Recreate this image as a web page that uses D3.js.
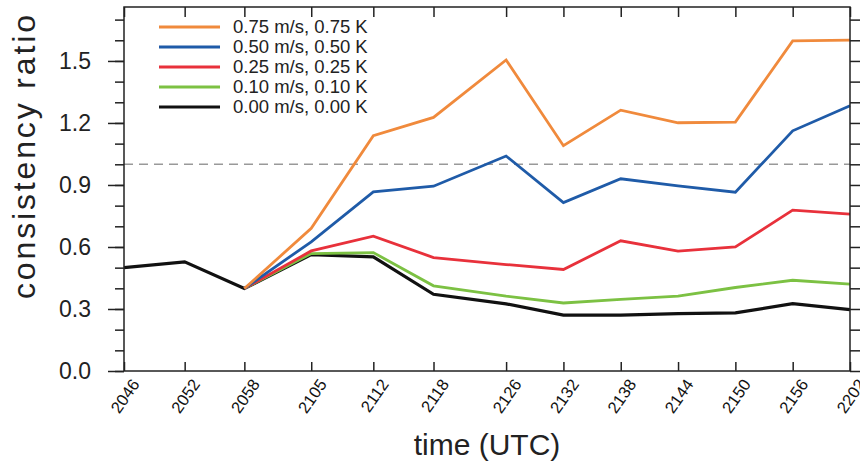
<!DOCTYPE html>
<html>
<head>
<meta charset="utf-8">
<script src="https://cdn.jsdelivr.net/npm/d3@7"></script>
<style>
  body { margin: 0; background: #fff; }
  svg { display: block; font-family: "Liberation Sans", Arial, sans-serif; }
</style>
</head>
<body>
<div id="parentDiv"></div>
<script>
// data
const timeLabels = ["2046", "2052", "2058", "2105", "2112", "2118", "2126", "2132", "2138", "2144", "2150", "2156", "2202"];
// minutes after 20:46 (the early runs are not on whole minutes)
const timeMinutes = [0, 6.35, 12.6, 19.6, 26.1, 32.4, 40, 46, 52, 58, 64, 70, 76];

// perturbed runs branch off at 2058
const ratio075 = [null, null, 0.399, 0.69, 1.138, 1.227, 1.505, 1.09, 1.262, 1.201, 1.204, 1.597, 1.601];
const ratio050 = [null, null, 0.399, 0.625, 0.867, 0.894, 1.04, 0.815, 0.93, 0.896, 0.865, 1.162, 1.283];
const ratio025 = [null, null, 0.399, 0.581, 0.652, 0.549, 0.515, 0.491, 0.63, 0.58, 0.60, 0.778, 0.759];
const ratio010 = [null, null, 0.399, 0.568, 0.573, 0.412, 0.362, 0.329, 0.347, 0.362, 0.404, 0.439, 0.42];
const ratio000 = [0.50, 0.528, 0.399, 0.563, 0.552, 0.371, 0.325, 0.27, 0.27, 0.278, 0.281, 0.326, 0.297];

const seriesNames = ["0.75 m/s, 0.75 K", "0.50 m/s, 0.50 K", "0.25 m/s, 0.25 K", "0.10 m/s, 0.10 K", "0.00 m/s, 0.00 K"];
const seriesValues = [ratio075, ratio050, ratio025, ratio010, ratio000];
const seriesColors = ["#f08a3c", "#1f5ba8", "#e8313b", "#7cc143", "#111111"];

const majorTicks = [0, 0.3, 0.6, 0.9, 1.2, 1.5];
const minorTicks = d3.range(0, 18).map(i => i / 10);

const width = 860;
const height = 463;
const margin = {left: 124, right: 10, top: 7, bottom: 92};

const svg = d3.select('#parentDiv').append('svg')
  .attr('width', width)
  .attr('height', height);

const x = d3.scaleLinear()
  .domain([0, 76])
  .range([margin.left, width - margin.right]);

const y = d3.scaleLinear()
  .domain([0, 1.761])
  .range([height - margin.bottom, margin.top]);

const frameColor = "#222";

// reference line at 1.0
svg.append('line')
  .attr('x1', x(0))
  .attr('x2', x(76))
  .attr('y1', y(1))
  .attr('y2', y(1))
  .attr('stroke', '#999')
  .attr('stroke-width', 1.5)
  .attr('stroke-dasharray', '9,6');

// lines, black drawn last so it sits on top
const line = d3.line()
  .defined(d => d != null)
  .x((d, i) => x(timeMinutes[i]))
  .y(d => y(d));

seriesValues.slice().reverse().forEach((vals, k) => {
  const idx = seriesValues.length - 1 - k;
  svg.append('path')
    .datum(vals)
    .attr('d', line)
    .attr('fill', 'none')
    .attr('stroke', seriesColors[idx])
    .attr('stroke-width', idx == 4 ? 3.2 : 2.8)
    .attr('stroke-linejoin', 'miter');
});

// AXES
function styleAxis(g) {
  g.select('.domain').remove();
  g.selectAll('.tick line').attr('stroke', frameColor).attr('stroke-width', 1.5);
}

// left: major and minor ticks pointing out
svg.append('g')
  .attr('transform', `translate(${x(0)},0)`)
  .call(d3.axisLeft(y).tickValues(minorTicks).tickSize(9).tickFormat(''))
  .call(styleAxis);

const leftMajor = svg.append('g')
  .attr('transform', `translate(${x(0)},0)`)
  .call(d3.axisLeft(y).tickValues(majorTicks).tickSize(16).tickPadding(17).tickFormat(d3.format('.1f')))
  .call(styleAxis);
leftMajor.selectAll('text')
  .attr('font-size', '23px')
  .attr('fill', '#222')
  .attr('font-family', '"Liberation Sans", Arial, sans-serif');

// right: ticks pointing out
svg.append('g')
  .attr('transform', `translate(${x(76)},0)`)
  .call(d3.axisRight(y).tickValues(minorTicks).tickSize(10).tickFormat(''))
  .call(styleAxis);

// bottom: ticks pointing in
svg.append('g')
  .attr('transform', `translate(0,${y(0)})`)
  .call(d3.axisTop(x).tickValues(timeMinutes).tickSize(9).tickFormat(''))
  .call(styleAxis);

// top: ticks pointing in
svg.append('g')
  .attr('transform', `translate(0,${y.range()[1]})`)
  .call(d3.axisBottom(x).tickValues(timeMinutes).tickSize(10).tickFormat(''))
  .call(styleAxis);

// frame
svg.append('rect')
  .attr('x', x(0))
  .attr('y', y.range()[1])
  .attr('width', x(76) - x(0))
  .attr('height', y(0) - y.range()[1])
  .attr('fill', 'none')
  .attr('stroke', frameColor)
  .attr('stroke-width', 1.5);

// rotated time labels (the last one runs off the edge, as in the original)
svg.append('g').selectAll('text')
  .data(timeLabels)
  .enter().append('text')
  .attr('transform', (d, i) => `translate(${x(timeMinutes[i]) + 11.5},${y(0) + 10}) rotate(-55)`)
  .attr('text-anchor', 'end')
  .attr('dy', '0.35em')
  .attr('font-size', '16.5px')
  .attr('fill', '#111')
  .text(d => d);

// axis titles
svg.append('text')
  .attr('x', (x(0) + x(76)) / 2)
  .attr('y', 455)
  .attr('text-anchor', 'middle')
  .attr('font-size', '30px')
  .attr('fill', '#222')
  .text('time (UTC)');

svg.append('text')
  .attr('transform', 'translate(35,157) rotate(-90)')
  .attr('text-anchor', 'middle')
  .attr('font-size', '32px')
  .attr('fill', '#222')
  .attr('textLength', 284)
  .attr('lengthAdjust', 'spacing')
  .text('consistency ratio');

// LEGEND
const legend = svg.append('g').attr('class', 'legend');
seriesNames.forEach((name, i) => {
  const ly = 27 + i * 20;
  legend.append('line')
    .attr('x1', 159)
    .attr('x2', 220)
    .attr('y1', ly)
    .attr('y2', ly)
    .attr('stroke', seriesColors[i])
    .attr('stroke-width', 3);
  legend.append('text')
    .attr('x', 233)
    .attr('y', ly)
    .attr('dy', '0.35em')
    .attr('font-size', '18.5px')
    .attr('fill', '#222')
    .text(name);
});
</script>
</body>
</html>
